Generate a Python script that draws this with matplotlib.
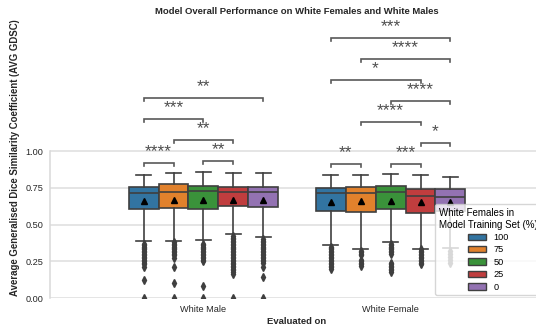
import matplotlib
matplotlib.use('Agg')
import matplotlib.pyplot as plt
from matplotlib.patches import Patch

plt.rcParams['font.family'] = ['Liberation Sans', 'DejaVu Sans']

# ---------------- data ----------------
groups = ["White Male", "White Female"]
hue_levels = ["100", "75", "50", "25", "0"]
colors = ["#3274a1", "#e1812c", "#3a923a", "#c03d3e", "#9372b2"]

wm_whishi = [0.837, 0.848, 0.859, 0.848, 0.853]
wm_q3     = [0.757, 0.773, 0.764, 0.753, 0.757]
wm_med    = [0.712, 0.723, 0.730, 0.719, 0.723]
wm_q1     = [0.608, 0.612, 0.608, 0.624, 0.619]
wm_mean   = [0.660, 0.668, 0.668, 0.665, 0.668]
wm_whislo = [0.388, 0.390, 0.397, 0.433, 0.415]
wm_fliers = [
    [0.37, 0.36, 0.35, 0.34, 0.33, 0.32, 0.31, 0.30, 0.29, 0.28, 0.27, 0.26, 0.25, 0.24, 0.23, 0.21, 0.12, 0.0],
    [0.38, 0.37, 0.36, 0.35, 0.34, 0.33, 0.32, 0.31, 0.30, 0.29, 0.27, 0.21, 0.10, 0.0],
    [0.37, 0.36, 0.35, 0.34, 0.33, 0.32, 0.31, 0.30, 0.29, 0.28, 0.27, 0.26, 0.25, 0.08, 0.0],
    [0.42, 0.41, 0.40, 0.39, 0.38, 0.37, 0.36, 0.35, 0.34, 0.33, 0.32, 0.31, 0.30, 0.29, 0.28, 0.27,
     0.26, 0.25, 0.24, 0.23, 0.22, 0.21, 0.20, 0.19, 0.18, 0.16, 0.0],
    [0.40, 0.39, 0.38, 0.37, 0.36, 0.35, 0.34, 0.33, 0.32, 0.31, 0.30, 0.29, 0.28, 0.27, 0.26, 0.25,
     0.24, 0.21, 0.14, 0.0],
]

wf_whishi = [0.839, 0.839, 0.841, 0.839, 0.825]
wf_q3     = [0.748, 0.757, 0.760, 0.744, 0.744]
wf_med    = [0.714, 0.716, 0.719, 0.696, 0.689]
wf_q1     = [0.592, 0.587, 0.603, 0.580, 0.590]
wf_mean   = [0.655, 0.662, 0.662, 0.655, 0.650]
wf_whislo = [0.358, 0.331, 0.379, 0.336, 0.340]
wf_fliers = [
    [0.35, 0.34, 0.33, 0.32, 0.31, 0.30, 0.29, 0.28, 0.27, 0.26, 0.25, 0.24, 0.23, 0.22, 0.21, 0.20],
    [0.32, 0.31, 0.30, 0.29, 0.26, 0.25, 0.24, 0.23, 0.22],
    [0.37, 0.36, 0.35, 0.34, 0.33, 0.32, 0.31, 0.30, 0.24, 0.23, 0.22, 0.21, 0.20, 0.19, 0.18],
    [0.33, 0.32, 0.31, 0.30, 0.29, 0.28, 0.27, 0.26, 0.25, 0.24, 0.23],
    [0.32, 0.30, 0.28, 0.26, 0.24],
]

wm_pairs = [("100", "75", "****"), ("50", "25", "**"), ("75", "25", "**"),
            ("100", "50", "***"), ("100", "0", "**")]
wf_pairs = [("100", "75", "**"), ("50", "25", "***"), ("25", "0", "*"),
            ("75", "25", "****"), ("50", "0", "****"), ("100", "25", "*"),
            ("75", "0", "****"), ("100", "0", "***")]

title = "Model Overall Performance on White Females and White Males"
xlabel = "Evaluated on"
ylabel = "Average Generalised Dice Similarity Coefficient (AVG GDSC)"
legend_title = "White Females in\nModel Training Set (%)"
yticks = [0.0, 0.25, 0.5, 0.75, 1.0]

# ---------------- plot ----------------
fig = plt.figure(figsize=(5.36, 3.31), dpi=100)
ax = fig.add_axes([50 / 536, 33 / 331, 494 / 536, 280 / 331])

line_c = "#3f3f3f"
n = len(hue_levels)
bw = 0.8 / n
FS = 6.6

group_data = [
    (wm_whishi, wm_q3, wm_med, wm_q1, wm_mean, wm_whislo, wm_fliers, wm_pairs),
    (wf_whishi, wf_q3, wf_med, wf_q1, wf_mean, wf_whislo, wf_fliers, wf_pairs),
]

for gi, (whi, q3, med, q1, mean, wlo, fl, pairs) in enumerate(group_data):
    stats = []
    for j in range(n):
        stats.append(dict(med=med[j], q1=q1[j], q3=q3[j], whislo=wlo[j], whishi=whi[j],
                          mean=mean[j], fliers=fl[j], label=hue_levels[j]))
    pos = [gi + (j - (n - 1) / 2) * bw for j in range(n)]
    bp = ax.bxp(stats, positions=pos, widths=bw, patch_artist=True, showmeans=True,
                capwidths=bw * 0.5,
                boxprops=dict(edgecolor=line_c, linewidth=1.2),
                medianprops=dict(color=line_c, linewidth=1.2),
                whiskerprops=dict(color=line_c, linewidth=1.2),
                capprops=dict(color=line_c, linewidth=1.2),
                meanprops=dict(marker='^', markerfacecolor='black', markeredgecolor='black',
                               markersize=4.5),
                flierprops=dict(marker='d', markerfacecolor=line_c, markeredgecolor=line_c,
                                markersize=3.6))
    for patch, c in zip(bp['boxes'], colors):
        patch.set_facecolor(c)

    # significance annotations, stacked like statannotations
    tops = list(whi)
    offset = 0.072
    text_h = 0.071
    tick_h = 0.02
    for a, b, stars in pairs:
        i1, i2 = hue_levels.index(a), hue_levels.index(b)
        lo, hi = min(i1, i2), max(i1, i2)
        y = max(tops[lo:hi + 1]) + offset
        x1, x2 = pos[lo], pos[hi]
        ax.plot([x1, x1, x2, x2], [y - tick_h, y, y, y - tick_h], color='0.35', lw=1.2,
                clip_on=False, solid_joinstyle='miter')
        ax.text((x1 + x2) / 2, y + 0.045, stars, ha='center', va='baseline', fontsize=12.5,
                color='0.3')
        for k in range(lo, hi + 1):
            tops[k] = y + text_h

ax.set_xlim(-0.82, 1.82)
ax.set_ylim(0, 1.905)
ax.set_yticks(yticks)
ax.set_yticklabels([f"{v:.2f}" for v in yticks])
ax.set_xticks(range(len(groups)))
ax.set_xticklabels(groups)
ax.tick_params(length=0, labelsize=FS, labelcolor='0.15', pad=5)
ax.yaxis.grid(True, color='0.87', lw=1.1)
ax.set_axisbelow(True)
for s in ['top', 'right', 'bottom']:
    ax.spines[s].set_visible(False)
ax.spines['left'].set_bounds(0, 1)
ax.spines['left'].set_color('0.85')
ax.spines['left'].set_linewidth(1.1)

ax.set_xlabel(xlabel, fontsize=6.8, fontweight='bold', color='0.15', labelpad=2)
ax.set_ylabel(ylabel, fontsize=6.9, fontweight='bold', color='0.15')
ax.set_title(title, fontsize=6.8, fontweight='bold', color='0.15', pad=3)

handles = [Patch(facecolor=c, edgecolor=line_c, linewidth=1.0) for c in colors]
leg = ax.legend(handles, hue_levels, title=legend_title, loc='lower right', fontsize=FS,
                title_fontsize=7, framealpha=0.8, edgecolor='0.8', borderaxespad=0.3,
                labelspacing=0.37)

fig.savefig("out.png", dpi=100)
